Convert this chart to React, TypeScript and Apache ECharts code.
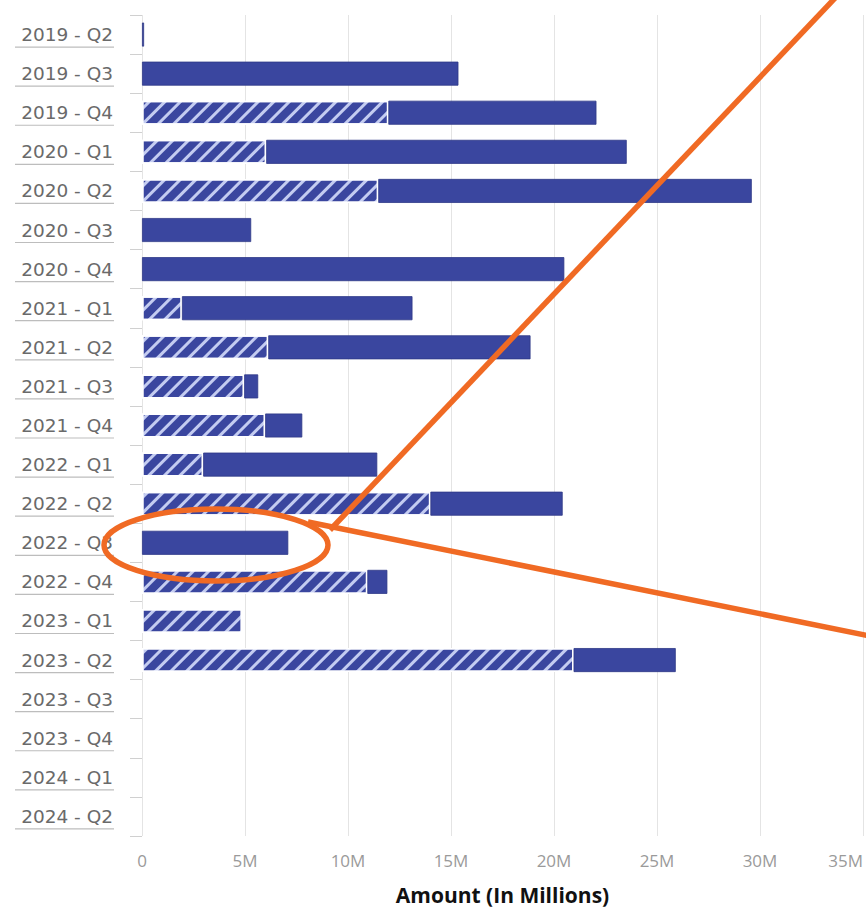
import React, { useEffect, useRef } from "react";
import * as echarts from "echarts";

const categories = [
  "2019 - Q2", "2019 - Q3", "2019 - Q4", "2020 - Q1", "2020 - Q2", "2020 - Q3",
  "2020 - Q4", "2021 - Q1", "2021 - Q2", "2021 - Q3", "2021 - Q4", "2022 - Q1",
  "2022 - Q2", "2022 - Q3", "2022 - Q4", "2023 - Q1", "2023 - Q2", "2023 - Q3",
  "2023 - Q4", "2024 - Q1", "2024 - Q2",
];

// hatched portion (millions)
const hatchedValues = [
  null, null, 11.96, 6.03, 11.47, null,
  null, 1.94, 6.13, 4.96, 5.98, 2.97,
  14.0, null, 10.94, 4.86, 20.95, null,
  null, null, null,
];

// solid portion (millions)
const solidValues = [
  0.1, 15.36, 10.1, 17.5, 18.13, 5.3,
  20.5, 11.19, 12.73, 0.68, 1.8, 8.45,
  6.42, 7.1, 0.97, null, 4.96, null,
  null, null, null,
];

const xTicks = [0, 5, 10, 15, 20, 25, 30, 35];

const BAR = "#3a469f";
const ORANGE = "#f06a24";

export default function App() {
  const ref = useRef<HTMLDivElement>(null);

  useEffect(() => {
    document.body.style.margin = "0";
    const chart = echarts.init(ref.current!, null, { renderer: "svg" });
    const option: any = {
      animation: false,
      backgroundColor: "#ffffff",
      grid: { left: 142, right: 3, top: 15, bottom: 72, containLabel: false },
      xAxis: {
        type: "value",
        min: xTicks[0],
        max: xTicks[xTicks.length - 1],
        interval: 5,
        name: "Amount (In Millions)",
        nameLocation: "middle",
        nameGap: 48,
        nameTextStyle: {
          fontFamily: "Open Sans",
          fontWeight: "bold",
          fontSize: 21,
          color: "#111",
        },
        axisLine: { show: false },
        axisTick: { show: false },
        axisLabel: {
          color: "#9a9a9a",
          fontFamily: "Open Sans",
          fontSize: 17,
          margin: 16,
          alignMaxLabel: "right",
          formatter: (v: number) => (v === 0 ? "0" : v + "M"),
        },
        splitLine: { show: true, lineStyle: { color: "#e4e4e4", width: 1 } },
      },
      yAxis: {
        type: "category",
        inverse: true,
        data: categories,
        axisLine: { show: false },
        axisTick: {
          show: true,
          length: 12,
          lineStyle: { color: "#d0d0d0" },
        },
        axisLabel: {
          color: "#6a6a6a",
          fontFamily: "DejaVu Sans",
          fontSize: 18.5,
          margin: 29,
        },
      },
      series: [
        {
          type: "bar",
          name: "Hatched",
          stack: "total",
          barWidth: 24,
          data: hatchedValues,
          itemStyle: {
            color: BAR,
            borderColor: "#ffffff",
            borderWidth: 1.5,
            decal: {
              symbol: "rect",
              symbolSize: 1,
              color: "rgba(220,228,255,0.85)",
              dashArrayX: [1, 0],
              dashArrayY: [2.5, 7.5],
              rotation: -Math.PI / 4,
            },
          },
        },
        {
          type: "bar",
          name: "Solid",
          stack: "total",
          barWidth: 24,
          data: solidValues,
          itemStyle: {
            color: BAR,
            borderColor: "#2e3987",
            borderWidth: 0.8,
          },
        },
      ],
    };
    chart.setOption(option);

    const underlines = categories.map((c, i) => {
      const y = chart.convertToPixel({ yAxisIndex: 0 }, c) as number;
      return {
        type: "line",
        id: "ul" + i,
        z: 50,
        shape: { x1: 15, y1: y + 12.5, x2: 114, y2: y + 12.5 },
        style: { stroke: "#bdbdbd", lineWidth: 1.2 },
      };
    });

    chart.setOption({
      graphic: [
        ...underlines,
        {
          type: "ellipse",
          id: "ell",
          z: 100,
          shape: { cx: 216, cy: 545, rx: 112, ry: 36 },
          style: { fill: "none", stroke: ORANGE, lineWidth: 5.5 },
        },
        {
          type: "line",
          id: "l1",
          z: 100,
          shape: { x1: 837, y1: -4, x2: 330, y2: 530 },
          style: { stroke: ORANGE, lineWidth: 5.5 },
        },
        {
          type: "line",
          id: "l2",
          z: 100,
          shape: { x1: 308, y1: 522, x2: 870, y2: 636 },
          style: { stroke: ORANGE, lineWidth: 5.5 },
        },
      ],
    });

    return () => chart.dispose();
  }, []);

  return <div ref={ref} style={{ width: 866, height: 910 }} />;
}
